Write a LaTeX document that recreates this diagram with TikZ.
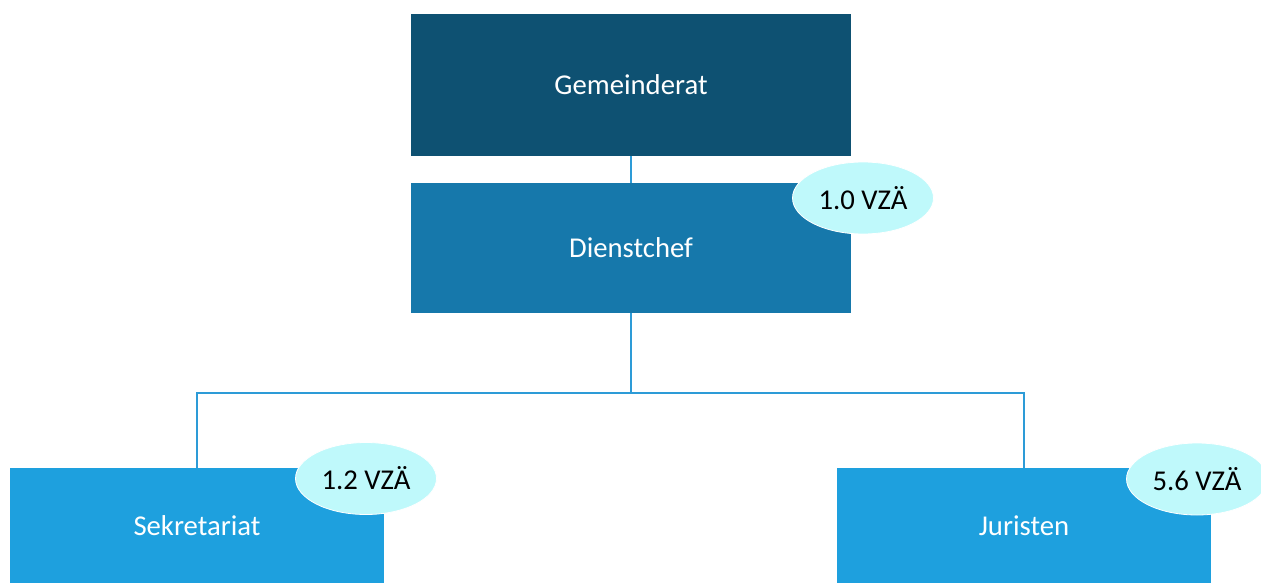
\documentclass[tikz,border=0pt]{standalone}
\usepackage{fontspec}
\setmainfont{Carlito}
\usetikzlibrary{shapes.geometric}
\definecolor{cdark}{RGB}{14,81,114}
\definecolor{cmid}{RGB}{22,120,171}
\definecolor{clight}{RGB}{30,160,222}
\definecolor{cellipse}{RGB}{191,249,251}
\definecolor{cline}{RGB}{45,155,215}
\tikzset{
  orgbox/.style={rectangle, inner sep=0pt, text=white, font=\fontsize{28.7}{34}\selectfont},
  badge/.style={ellipse, fill=cellipse, draw=white, line width=0.8pt, minimum width=141pt, minimum height=72pt, inner sep=0pt, text=black, font=\fontsize{28.7}{34}\selectfont},
  conn/.style={draw=cline, line width=1.6pt}
}
\begin{document}
\begin{tikzpicture}[x=1pt,y=-1pt]
\useasboundingbox (0,0) rectangle (1261,583);
% boxes
\node[orgbox, fill=cdark, minimum width=440pt, minimum height=142pt] (gr) at (631,85) {Gemeinderat};
\node[orgbox, fill=cmid, minimum width=440pt, minimum height=130pt] (dc) at (631,248) {Dienstchef};
\node[orgbox, fill=clight, minimum width=374pt, minimum height=124pt] (sk) at (197,530) {};
\node[orgbox, fill=clight, minimum width=374pt, minimum height=124pt] (ju) at (1024,530) {};
\node[orgbox] (sklabel) at (197,526) {Sekretariat};
\node[orgbox] (julabel) at (1024,526) {Juristen};
% connectors
\coordinate (bus) at (631,393);
\draw[conn] (gr.south) -- (dc.north);
\draw[conn] (dc.south) -- (bus);
\draw[conn] (sk.north) |- (bus) -| (ju.north);
% badges
\node[badge] (b1) at (863,198) {1.0 VZÄ};
\node[badge] (b2) at (366,478.5) {1.2 VZÄ};
\node[badge] (b3) at (1197,479) {5.6 VZÄ};
\end{tikzpicture}
\end{document}
